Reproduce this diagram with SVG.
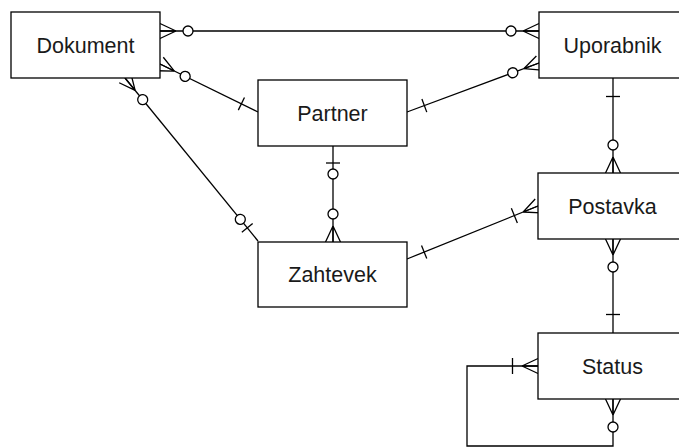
<svg xmlns="http://www.w3.org/2000/svg" width="679" height="447" viewBox="0 0 679 447">
<style>
.box{fill:#fff;stroke:#000;stroke-width:1.3}
.lbl{font-family:"Liberation Sans",Arial,Helvetica,sans-serif;font-size:21.5px;fill:#1a1a1a;text-anchor:middle}
.edge{fill:none;stroke:#000;stroke-width:1.3}
.mk{fill:none;stroke:#000;stroke-width:1.3}
.mc{fill:#fff;stroke:#000;stroke-width:1.3}
</style>
<defs>
<marker id="zeroMany" markerUnits="userSpaceOnUse" viewBox="-36 -10 38 20" refX="0" refY="0" markerWidth="38" markerHeight="20" orient="auto-start-reverse" overflow="visible">
<path class="mk" d="M-16 0L0 -7.5M-16 0L0 0M-16 0L0 7.5"/>
<circle class="mc" cx="-28" cy="0" r="5"/>
</marker>
<marker id="one" markerUnits="userSpaceOnUse" viewBox="-36 -10 38 20" refX="0" refY="0" markerWidth="38" markerHeight="20" orient="auto-start-reverse" overflow="visible">
<path class="mk" d="M-18.5 -7V7"/>
</marker>
<marker id="zeroOne" markerUnits="userSpaceOnUse" viewBox="-36 -10 38 20" refX="0" refY="0" markerWidth="38" markerHeight="20" orient="auto-start-reverse" overflow="visible">
<path class="mk" d="M-17 -7V7"/>
<circle class="mc" cx="-28" cy="0" r="5"/>
</marker>
<marker id="oneMany" markerUnits="userSpaceOnUse" viewBox="-36 -10 38 20" refX="0" refY="0" markerWidth="38" markerHeight="20" orient="auto-start-reverse" overflow="visible">
<path class="mk" d="M-16 0L0 -7.5M-16 0L0 0M-16 0L0 7.5M-25.5 -8V8"/>
</marker>
</defs>
<g id="connectors">
<path class="edge" d="M160 31H539" marker-start="url(#zeroMany)" marker-end="url(#zeroMany)"/>
<path class="edge" d="M160 64L258 112" marker-start="url(#zeroMany)" marker-end="url(#one)"/>
<path class="edge" d="M125 78L258 241" marker-start="url(#zeroMany)" marker-end="url(#zeroOne)"/>
<path class="edge" d="M407 112L539 63" marker-start="url(#one)" marker-end="url(#zeroMany)"/>
<path class="edge" d="M333 146V242" marker-start="url(#zeroOne)" marker-end="url(#zeroMany)"/>
<path class="edge" d="M613 78V173" marker-start="url(#one)" marker-end="url(#zeroMany)"/>
<path class="edge" d="M407 259L538 206" marker-start="url(#one)" marker-end="url(#oneMany)"/>
<path class="edge" d="M613 239V333" marker-start="url(#zeroMany)" marker-end="url(#one)"/>
<path class="edge" d="M538 366H467V446H613V399" marker-start="url(#oneMany)" marker-end="url(#zeroMany)"/>
</g>
<g id="dokument"><rect class="box" x="11" y="12" width="149" height="66"/><text class="lbl" x="85.5" y="52.5">Dokument</text></g>
<g id="uporabnik"><rect class="box" x="539" y="12" width="149" height="66"/><text class="lbl" x="612.5" y="52.5">Uporabnik</text></g>
<g id="partner"><rect class="box" x="258" y="80" width="149" height="66"/><text class="lbl" x="332.5" y="120.5">Partner</text></g>
<g id="zahtevek"><rect class="box" x="258" y="242" width="149" height="65"/><text class="lbl" x="332.5" y="282">Zahtevek</text></g>
<g id="postavka"><rect class="box" x="538" y="173" width="149" height="66"/><text class="lbl" x="612.5" y="213.5">Postavka</text></g>
<g id="status"><rect class="box" x="538" y="333" width="149" height="66"/><text class="lbl" x="612.5" y="373.5">Status</text></g>
</svg>
